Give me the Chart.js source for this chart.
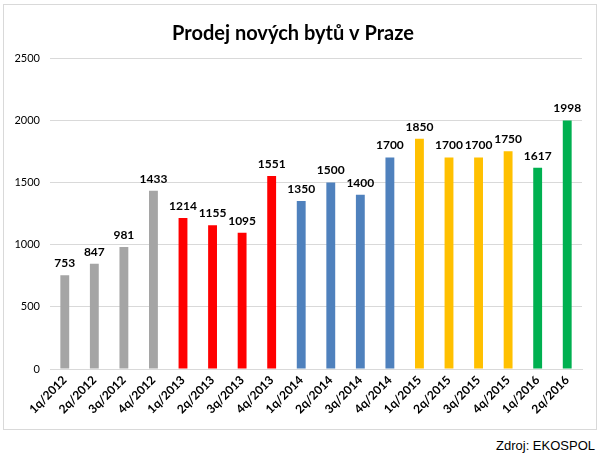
<!DOCTYPE html>
<html>
<head>
<meta charset="utf-8">
<script src="https://cdn.jsdelivr.net/npm/chart.js@4"></script>
<style>
  body { margin: 0; background: #fff; }
  #box { position: absolute; left: 3px; top: 4px; width: 592px; height: 424px; border: 1px solid #d9d9d9; }
  #src { position: absolute; right: 8px; top: 438px; font: 13px "Liberation Sans", Arial, sans-serif; color: #000; }
</style>
</head>
<body>
<div id="box"><canvas id="chart" width="592" height="424"></canvas></div>
<div id="src">Zdroj: EKOSPOL</div>
<script>
const quarters = ['1q/2012', '2q/2012', '3q/2012', '4q/2012',
  '1q/2013', '2q/2013', '3q/2013', '4q/2013',
  '1q/2014', '2q/2014', '3q/2014', '4q/2014',
  '1q/2015', '2q/2015', '3q/2015', '4q/2015',
  '1q/2016', '2q/2016'];
const sales = [753, 847, 981, 1433, 1214, 1155, 1095, 1551, 1350, 1500, 1400, 1700,
  1850, 1700, 1700, 1750, 1617, 1998];
const yearColors = {'2012': '#a5a5a5', '2013': '#ff0000', '2014': '#4f81bd', '2015': '#ffc000', '2016': '#00b050'};
const yTicks = [0, 500, 1000, 1500, 2000, 2500];

const fontFam = 'Lato, "Open Sans", sans-serif';

// Value labels above each bar
const valueLabels = {
  id: 'valueLabels',
  afterDatasetsDraw(chart) {
    const ctx = chart.ctx;
    const meta = chart.getDatasetMeta(0);
    ctx.save();
    ctx.font = 'bold 12px ' + fontFam;
    ctx.fillStyle = '#000';
    ctx.textAlign = 'center';
    ctx.textBaseline = 'bottom';
    meta.data.forEach((bar, i) => {
      ctx.fillText(sales[i], bar.x, bar.y - 6);
    });
    ctx.restore();
  }
};

new Chart(document.getElementById('chart'), {
  type: 'bar',
  data: {
    labels: quarters,
    datasets: [{
      data: sales,
      backgroundColor: quarters.map(q => yearColors[q.split('/')[1]]),
      barPercentage: 0.6,
      categoryPercentage: 0.5
    }]
  },
  options: {
    responsive: false,
    animation: false,
    layout: { padding: { left: 0, right: 14, top: 17, bottom: 6 } },
    plugins: {
      legend: { display: false },
      tooltip: { enabled: false },
      title: {
        display: true,
        text: 'Prodej nových bytů v Praze',
        color: '#000',
        font: { family: fontFam, size: 20, weight: 'bold' },
        padding: { top: 0, bottom: 12 }
      }
    },
    scales: {
      x: {
        afterFit(scale) { scale.height = 54; },
        grid: { display: false, drawTicks: false },
        border: { color: '#d9d9d9' },
        ticks: {
          color: '#000',
          font: { family: fontFam, size: 12, weight: 'bold' },
          maxRotation: 45,
          minRotation: 45,
          autoSkip: false,
          padding: 4
        }
      },
      y: {
        min: 0,
        max: 2500,
        afterFit(scale) { scale.width = 46; },
        afterBuildTicks(scale) { scale.ticks = yTicks.map(v => ({value: v})); },
        grid: { color: '#d9d9d9', drawTicks: false },
        border: { display: false },
        ticks: {
          color: '#000',
          font: { family: fontFam, size: 11 },
          padding: 10,
          callback: v => String(v)
        }
      }
    }
  },
  plugins: [valueLabels]
});
</script>
</body>
</html>
